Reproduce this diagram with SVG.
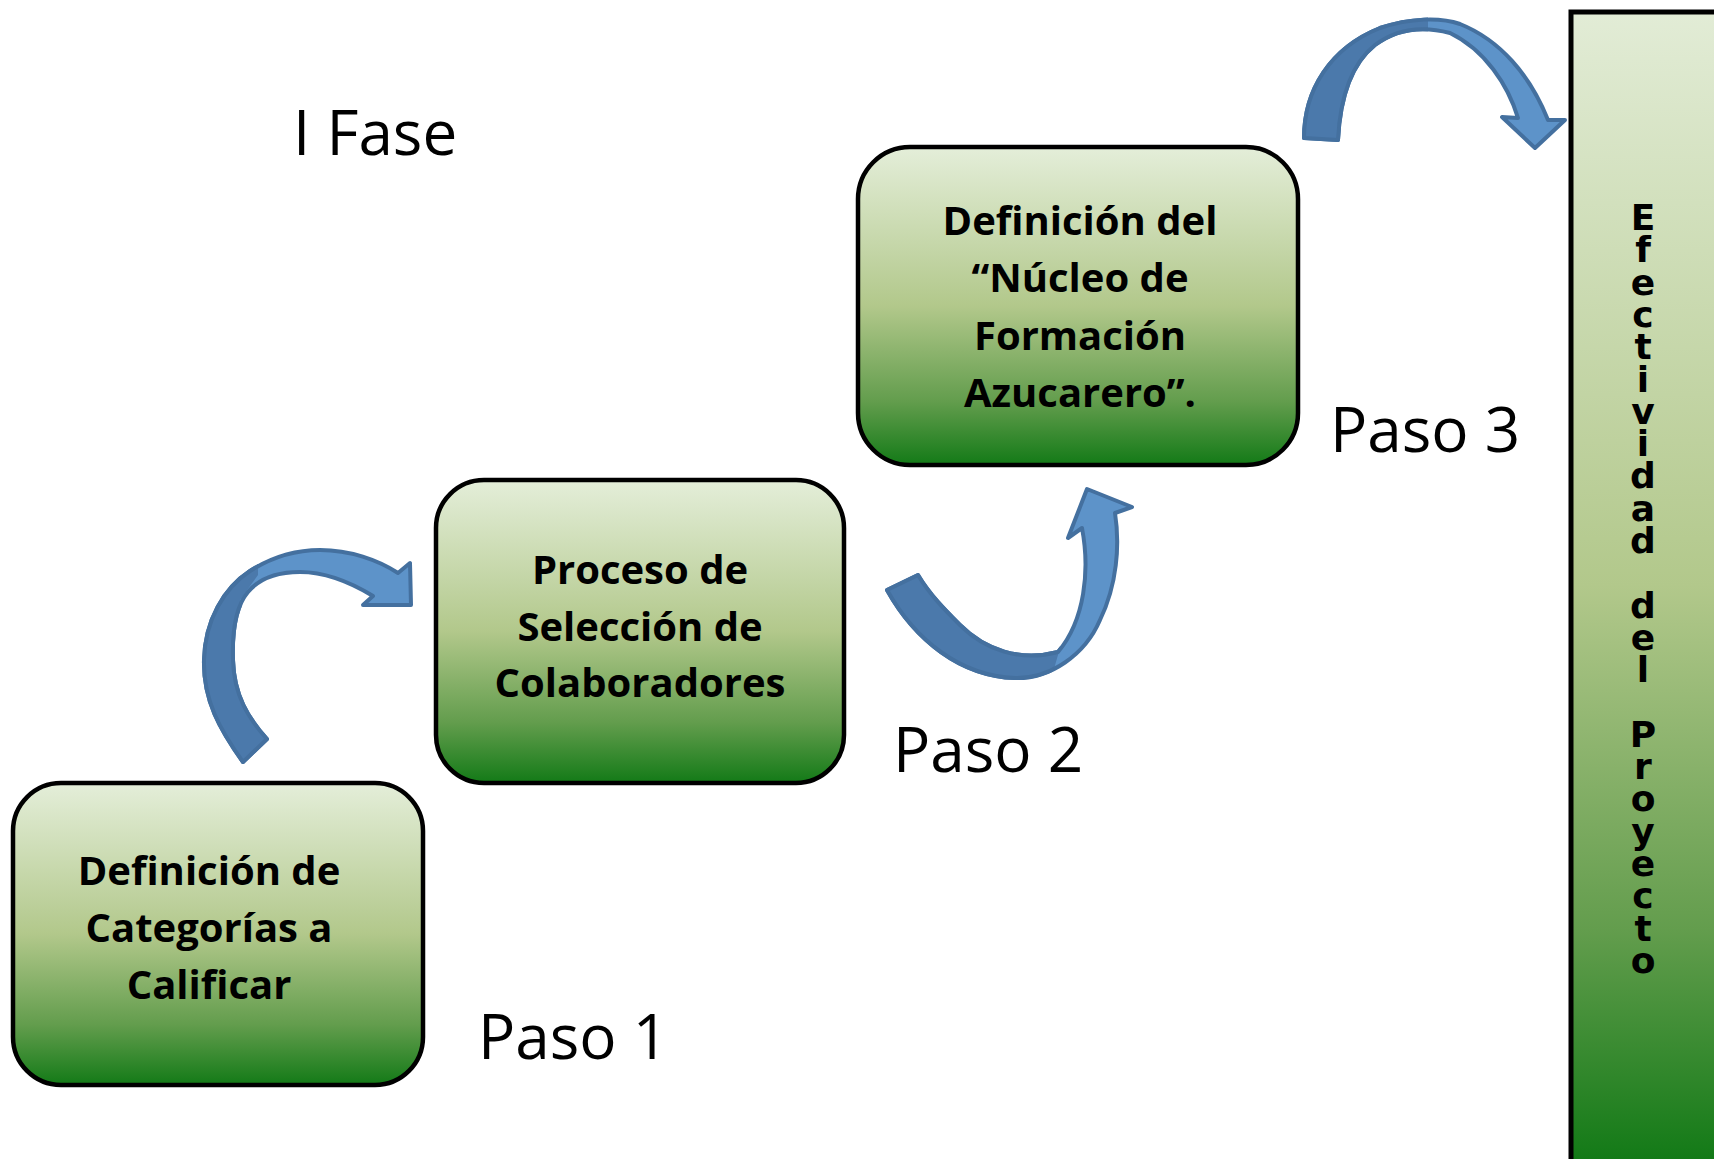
<svg xmlns="http://www.w3.org/2000/svg" width="1714" height="1159" viewBox="0 0 1714 1159">
<defs>
<linearGradient id="boxGrad" x1="0" y1="0" x2="0" y2="1">
<stop offset="0" stop-color="#e4eed9"/>
<stop offset="0.5" stop-color="#b2c88b"/>
<stop offset="0.8" stop-color="#639d4d"/>
<stop offset="1" stop-color="#137a17"/>
</linearGradient>
<linearGradient id="barGrad" gradientUnits="userSpaceOnUse" x1="0" y1="12" x2="0" y2="1159">
<stop offset="0" stop-color="#e2ecd6"/>
<stop offset="0.5" stop-color="#b2c88b"/>
<stop offset="0.8" stop-color="#639d4d"/>
<stop offset="1" stop-color="#137a17"/>
</linearGradient>
<clipPath id="c1"><polygon points="120,820 120,480 258,480 258,575 240,600 300,820"/></clipPath>
<clipPath id="c2"><polygon points="860,450 1055,450 1060,648 1045,700 860,700"/></clipPath>
<clipPath id="c3"><polygon points="1280,0 1428,0 1428,170 1280,170"/></clipPath>
<path id="a1" d="M243,762 C220,730 203,700 204,660 C205,620 224,588 250,571 C275,555 300,550 320,550 C350,550 378,560 398,573 L410,563 L411,605 L363,605 L373,596 C350,582 325,572 300,572 C275,572 258,580 248,592 C236,606 232,630 233,660 C234,695 248,718 267,739 Z"/>
<path id="a2" d="M887,590 C915,640 960,676 1015,678 C1050,679 1085,655 1100,620 C1117,585 1120,545 1115,513 L1132,507 L1087,489 L1068,538 L1082,528 C1090,570 1085,620 1058,652 C1020,662 985,650 960,625 C945,610 930,595 918,575 Z"/>
<path id="a3" d="M1304,138 C1304,90 1330,48 1380,28 C1410,18 1440,17 1460,24 C1500,40 1530,75 1548,120 L1565,120 L1535,148 L1502,117 L1518,118 C1508,85 1485,50 1450,33 C1420,25 1395,30 1375,45 C1350,65 1340,100 1338,140 Z"/>
</defs>
<style>
.box{fill:url(#boxGrad);stroke:#000;stroke-width:4.5}
.bt{font-family:"Open Sans","Liberation Sans",sans-serif;font-weight:bold;font-size:40px;fill:#000;text-anchor:middle}
.lbl{font-family:"Open Sans","Liberation Sans",sans-serif;font-size:62px;fill:#000}
.vt{font-family:"DejaVu Sans","Liberation Sans",sans-serif;font-weight:bold;font-size:36px;fill:#000;text-anchor:middle}
.light{fill:#5d93c9;stroke:#44709f;stroke-width:4;stroke-linejoin:round}
.dark{fill:#4b79ab;stroke:#44709f;stroke-width:4;stroke-linejoin:round}
</style>
<rect width="1714" height="1159" fill="#ffffff"/>

<g id="bar">
<rect x="1571" y="12" width="200" height="1200" fill="url(#barGrad)" stroke="#000" stroke-width="5"/>
<text class="vt"><tspan x="1643" y="230">E</tspan><tspan x="1643" y="262.3">f</tspan><tspan x="1643" y="294.6">e</tspan><tspan x="1643" y="326.9">c</tspan><tspan x="1643" y="359.2">t</tspan><tspan x="1643" y="391.5">i</tspan><tspan x="1643" y="423.8">v</tspan><tspan x="1643" y="456.1">i</tspan><tspan x="1643" y="488.4">d</tspan><tspan x="1643" y="520.7">a</tspan><tspan x="1643" y="553">d</tspan><tspan x="1643" y="617.6">d</tspan><tspan x="1643" y="649.9">e</tspan><tspan x="1643" y="682.2">l</tspan><tspan x="1643" y="746.8">P</tspan><tspan x="1643" y="779.1">r</tspan><tspan x="1643" y="811.4">o</tspan><tspan x="1643" y="843.7">y</tspan><tspan x="1643" y="876">e</tspan><tspan x="1643" y="908.3">c</tspan><tspan x="1643" y="940.6">t</tspan><tspan x="1643" y="972.9">o</tspan></text>
</g>

<g id="box1">
<rect class="box" x="13" y="783" width="410" height="302" rx="48" ry="48"/>
<text class="bt"><tspan x="209" y="885">Definición de</tspan><tspan x="209" y="942">Categorías a</tspan><tspan x="209" y="999">Calificar</tspan></text>
</g>

<g id="box2">
<rect class="box" x="436" y="480" width="408" height="303" rx="48" ry="48"/>
<text class="bt"><tspan x="640" y="584">Proceso de</tspan><tspan x="640" y="641">Selección de</tspan><tspan x="640" y="697">Colaboradores</tspan></text>
</g>

<g id="box3">
<rect class="box" x="858" y="147" width="440" height="318" rx="52" ry="52"/>
<text class="bt"><tspan x="1080" y="235">Definición del</tspan><tspan x="1080" y="292">“Núcleo de</tspan><tspan x="1080" y="350">Formación</tspan><tspan x="1080" y="407">Azucarero”.</tspan></text>
</g>

<g id="labels">
<text class="lbl" x="293" y="155" font-size="63">I Fase</text>
<text class="lbl" x="478" y="1059">Paso 1</text>
<text class="lbl" x="893" y="772">Paso 2</text>
<text class="lbl" x="1330" y="452">Paso 3</text>
</g>

<g id="connectors">
<use href="#a1" class="light"/>
<use href="#a1" class="dark" clip-path="url(#c1)"/>
<use href="#a2" class="light"/>
<use href="#a2" class="dark" clip-path="url(#c2)"/>
<use href="#a3" class="light"/>
<use href="#a3" class="dark" clip-path="url(#c3)"/>
</g>
</svg>
